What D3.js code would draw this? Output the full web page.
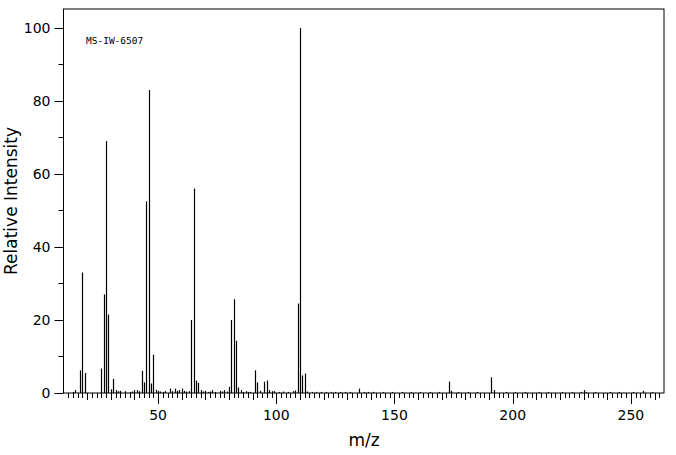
<!DOCTYPE html>
<html><head><meta charset="utf-8">
<script src="https://cdn.jsdelivr.net/npm/d3@7"></script>
<style>body{margin:0;background:#fff}</style></head>
<body><svg id="c" width="676" height="455"></svg>
<script>
const mz = [14,15,17,18,19,26,27,28,29,30,31,32,33,34,36,38,39,40,41,42,43,44,45,46,47,48,49,50,51,52,53,55,56,57,58,59,60,61,62,63,64,65,66,67,68,69,70,71,72,73,74,76,77,78,79,80,81,82,83,84,85,86,87,88,89,91,92,93,95,96,97,98,99,101,103,105,107,108,109,110,111,112,113,115,117,119,121,123,125,127,129,131,135,137,139,141,145,149,153,157,161,165,169,173,174,177,181,185,191,192,197,201,205,211,215,221,225,229,230,231,235,241,245,251,255,259];
const intensity = [0.3,0.8,6.2,33,5.5,6.7,27,69,21.5,1,3.9,0.8,0.5,0.6,0.5,0.3,0.4,0.8,0.8,0.5,6.1,2.9,52.5,83,2.6,10.5,0.9,0.6,0.4,0.3,0.5,1.2,0.5,1.2,0.6,0.8,1.2,0.6,0.4,0.5,20,56,3.4,2.8,0.8,0.4,0.6,0.3,0.4,0.8,0.3,0.6,0.4,0.8,0.4,1.7,20,25.7,14.3,1.5,0.8,0.3,0.5,0.3,0.3,6.2,2.9,0.6,3.1,3.4,0.8,0.5,0.5,0.3,0.4,0.3,0.5,0.7,24.5,100,4.8,5.3,0.4,0.3,0.3,0.3,0.3,0.3,0.3,0.3,0.3,0.3,1.2,0.3,0.3,0.3,0.3,0.3,0.3,0.3,0.3,0.3,0.3,3.1,0.6,0.3,0.3,0.3,4.3,0.8,0.3,0.3,0.3,0.3,0.3,0.3,0.3,0.3,0.8,0.3,0.3,0.3,0.3,0.3,0.6,0.3];
const xTicks = [50,100,150,200,250];
const yTicks = [0,20,40,60,80,100];

const svg = d3.select("#c");
const L=63.5,R=664,T=9,B=393;
const x = d3.scaleLinear().domain([10,264]).range([L,R]);
const y = d3.scaleLinear().domain([0,105.2]).range([B,T]);
const font = "'DejaVu Sans', sans-serif";

svg.append("rect").attr("x",L).attr("y",T).attr("width",R-L).attr("height",B-T)
  .attr("fill","none").attr("stroke","#000").attr("stroke-width",1);

svg.selectAll("line.pk").data(mz).join("line").attr("class","pk")
  .attr("x1",(d)=>Math.round(x(d))+0.5).attr("x2",(d)=>Math.round(x(d))+0.5)
  .attr("y1",B).attr("y2",(d,i)=>y(intensity[i]))
  .attr("stroke","#000").attr("stroke-width",1.2);

// x ticks
const minorX = d3.range(12,264,2);
svg.selectAll("line.xt").data(minorX).join("line").attr("class","xt")
  .attr("x1",d=>Math.round(x(d))+0.5).attr("x2",d=>Math.round(x(d))+0.5)
  .attr("y1",B).attr("y2",d=> d%50===0?B+11:(d%10===0?B+7:B+5))
  .attr("stroke","#000");
svg.selectAll("text.xl").data(xTicks).join("text").attr("class","xl")
  .attr("x",d=>x(d)).attr("y",B+27).attr("text-anchor","middle")
  .attr("font-family",font).attr("font-size",14).text(d=>d);

// y ticks
const minorY = d3.range(0,101,10);
svg.selectAll("line.yt").data(minorY).join("line").attr("class","yt")
  .attr("x1",L).attr("x2",d=>d%20===0?L-9:L-5)
  .attr("y1",d=>Math.round(y(d))+0.5).attr("y2",d=>Math.round(y(d))+0.5)
  .attr("stroke","#000");
svg.selectAll("text.yl").data(yTicks).join("text").attr("class","yl")
  .attr("x",L-13).attr("y",d=>y(d)+5).attr("text-anchor","end")
  .attr("font-family",font).attr("font-size",14).text(d=>d);

svg.append("text").attr("x",86).attr("y",44).attr("font-family","'DejaVu Sans Mono', monospace")
  .attr("font-size",9.5).text("MS-IW-6507");
svg.append("text").attr("x",364).attr("y",446).attr("text-anchor","middle")
  .attr("font-family",font).attr("font-size",17).text("m/z");
svg.append("text").attr("transform","translate(17,201) rotate(-90)").attr("text-anchor","middle")
  .attr("font-family",font).attr("font-size",17).text("Relative Intensity");
</script></body></html>
